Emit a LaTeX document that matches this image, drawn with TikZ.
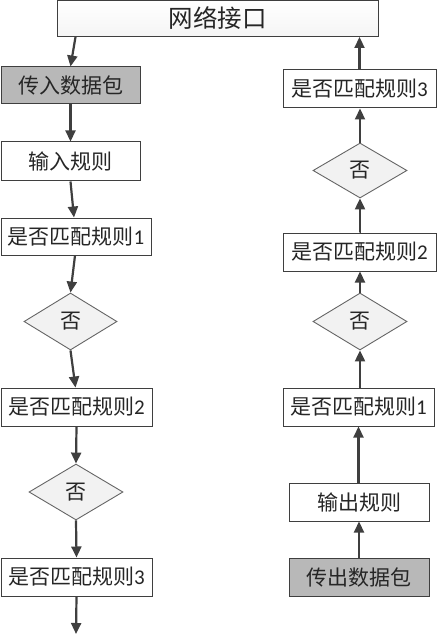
\documentclass[tikz,border=0pt]{standalone}
\usepackage{fontspec}
\setmainfont{Carlito}
\newfontfamily\cjk{Noto Sans CJK SC}
\newfontfamily\lat{Carlito}
\usetikzlibrary{arrows.meta,shapes.geometric}
\definecolor{edgec}{HTML}{3F3F3F}
\definecolor{grayfill}{HTML}{B8B8B8}
\definecolor{diafill}{HTML}{F2F2F2}
\definecolor{txt}{HTML}{262626}
\tikzset{
  x=1pt,y=-1pt,
  box/.style={draw=edgec,line width=1pt,fill=white,inner sep=0pt,text=txt,
    font=\fontsize{21}{23}\selectfont\cjk},
  graybox/.style={box,fill=grayfill},
  dia/.style={shape=diamond,inner sep=0pt,draw=edgec!80,line width=0.9pt,fill=diafill,text=txt,
    font=\fontsize{21}{23}\selectfont\cjk},
  arr/.style={draw=edgec,line width=2.2pt,-{Triangle[length=11pt,width=10pt]}},
}
\begin{document}
\begin{tikzpicture}
\useasboundingbox (0,0) rectangle (437,636);
% top
\node[box,minimum width=321,minimum height=36,top color=white,bottom color=gray!8,font=\fontsize{24.5}{26}\selectfont\cjk] (top) at (217.5,18.5) {网络接口};
% left column
\node[graybox,minimum width=139,minimum height=37] (inp) at (70.5,85.5) {传入数据包};
\node[box,minimum width=139,minimum height=39] (inr) at (70.5,161.5) {输入规则};
\node[box,minimum width=150,minimum height=37] (l1) at (76,236.5) {是否匹配规则{\lat 1}};
\node[dia,minimum width=93,minimum height=57] (ld1) at (70.5,321.5) {否};
\node[box,minimum width=151,minimum height=38] (l2) at (76.5,407) {是否匹配规则{\lat 2}};
\node[dia,minimum width=94,minimum height=56] (ld2) at (76,492) {否};
\node[box,minimum width=151,minimum height=38] (l3) at (76.5,577) {是否匹配规则{\lat 3}};
\coordinate (lend) at (76,634);
% right column
\node[box,minimum width=153,minimum height=38] (r3) at (359.5,89) {是否匹配规则{\lat 3}};
\node[dia,minimum width=94,minimum height=55] (rd1) at (360,170.5) {否};
\node[box,minimum width=153,minimum height=38] (r2) at (359.5,252) {是否匹配规则{\lat 2}};
\node[dia,minimum width=94,minimum height=57] (rd2) at (360,321.5) {否};
\node[box,minimum width=151,minimum height=38] (r1) at (358.5,407) {是否匹配规则{\lat 1}};
\node[box,minimum width=140,minimum height=38] (outr) at (359,502) {输出规则};
\node[graybox,minimum width=140,minimum height=38] (outp) at (359,577) {传出数据包};
% left arrows
\draw[arr] ([xshift=19pt]top.south west) -- (inp.north);
\draw[arr] (inp.south) -- (inr.north);
\draw[arr] (inr.south) -- ([xshift=-2pt]l1.north);
\draw[arr] ([xshift=-1pt]l1.south) -- (ld1.north);
\draw[arr] (ld1.south) -- ([xshift=-1pt]l2.north);
\draw[arr] (l2.south) -- (ld2.north);
\draw[arr] (ld2.south) -- (l3.north);
\draw[arr] (l3.south) -- (lend);
% right arrows
\draw[arr] (outp.north) -- (outr.south);
\draw[arr] (outr.north) -- (outr.north -| r1.south) -- (r1.south);
\draw[arr] (r1.north) -- (r1.north -| rd2.south) -- (rd2.south);
\draw[arr] (rd2.north) -- (r2.south -| rd2.north);
\draw[arr] (r2.north) -- (r2.north -| rd1.south) -- (rd1.south);
\draw[arr] (rd1.north) -- (r3.south -| rd1.north);
\draw[arr] (r3.north) -- (r3.north |- top.south);
\end{tikzpicture}
\end{document}
